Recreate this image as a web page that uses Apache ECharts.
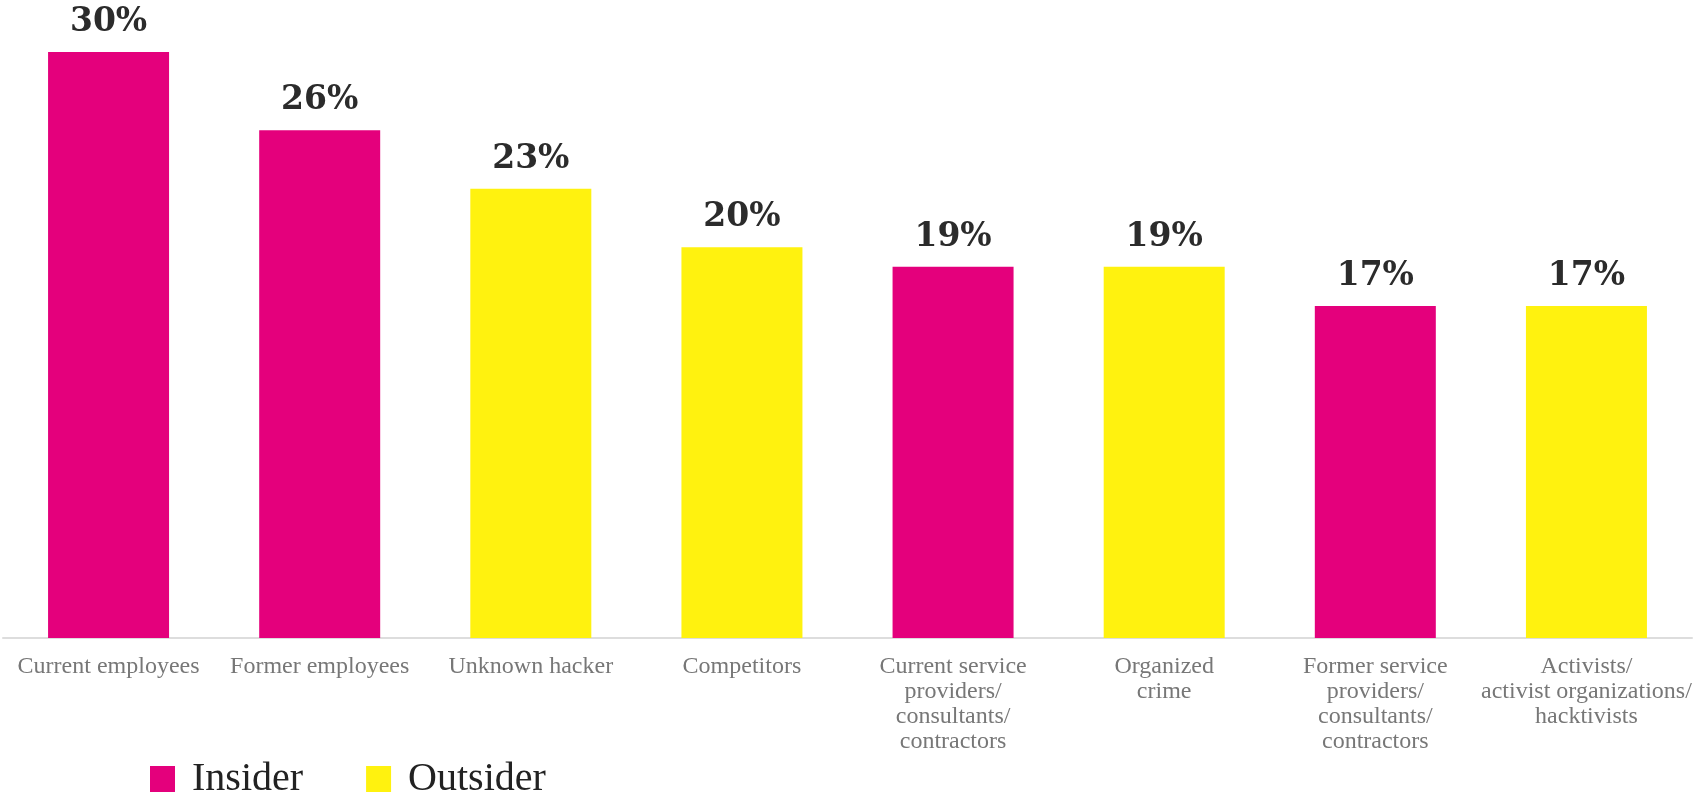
<!DOCTYPE html>
<html>
<head>
<meta charset="utf-8">
<script src="https://cdn.jsdelivr.net/npm/echarts@6/dist/echarts.min.js"></script>
<style>
  html, body { margin: 0; padding: 0; background: #ffffff; }
  #chart { width: 1695px; height: 794px; }
</style>
</head>
<body>
<div id="chart"></div>
<script>
// Threat actor categories (x axis)
const categories = [
  'Current employees',
  'Former employees',
  'Unknown hacker',
  'Competitors',
  'Current service\nproviders/\nconsultants/\ncontractors',
  'Organized\ncrime',
  'Former service\nproviders/\nconsultants/\ncontractors',
  'Activists/\nactivist organizations/\nhacktivists'
];

// Share of respondents (%) per group; '-' where the category belongs to the other group
const insiderValues  = [30, 26, '-', '-', 19, '-', 17, '-'];
const outsiderValues = ['-', '-', 23, 20, '-', 19, '-', 17];

const seriesNames = ['Insider', 'Outsider'];
const PINK = '#E4007C';
const YELLOW = '#FFF20F';

const chart = echarts.init(document.getElementById('chart'));

const valueLabel = {
  show: true,
  position: 'top',
  distance: 13,
  formatter: p => p.value + '%',
  fontFamily: '"DejaVu Serif", serif',
  fontWeight: 'bold',
  fontSize: 33,
  color: '#2b2b2b'
};

chart.setOption({
  animation: false,
  backgroundColor: '#ffffff',
  grid: { left: 3, right: 3, top: 52, bottom: 156, containLabel: false },
  legend: {
    data: seriesNames,
    left: 145,
    top: 754,
    icon: 'rect',
    itemWidth: 25,
    itemHeight: 26,
    itemGap: 63,
    textStyle: {
      fontFamily: '"Liberation Serif", serif',
      fontSize: 40,
      color: '#222222',
      padding: [0, 0, 0, 12]
    }
  },
  xAxis: {
    type: 'category',
    data: categories,
    axisLine: { show: true, lineStyle: { color: '#dddddd', width: 2 } },
    axisTick: { show: false },
    axisLabel: {
      interval: 0,
      margin: 16,
      fontFamily: '"Liberation Serif", serif',
      fontSize: 24,
      lineHeight: 25,
      color: '#777777',
      align: 'center',
      verticalAlign: 'top'
    }
  },
  yAxis: {
    type: 'value',
    min: 0,
    max: 30,
    show: false,
    splitLine: { show: false }
  },
  series: [
    {
      name: seriesNames[0],
      type: 'bar',
      data: insiderValues,
      barWidth: 121,
      barGap: '-100%',
      itemStyle: { color: PINK },
      label: valueLabel
    },
    {
      name: seriesNames[1],
      type: 'bar',
      data: outsiderValues,
      barWidth: 121,
      barGap: '-100%',
      itemStyle: { color: YELLOW },
      label: valueLabel
    }
  ]
});
</script>
</body>
</html>
